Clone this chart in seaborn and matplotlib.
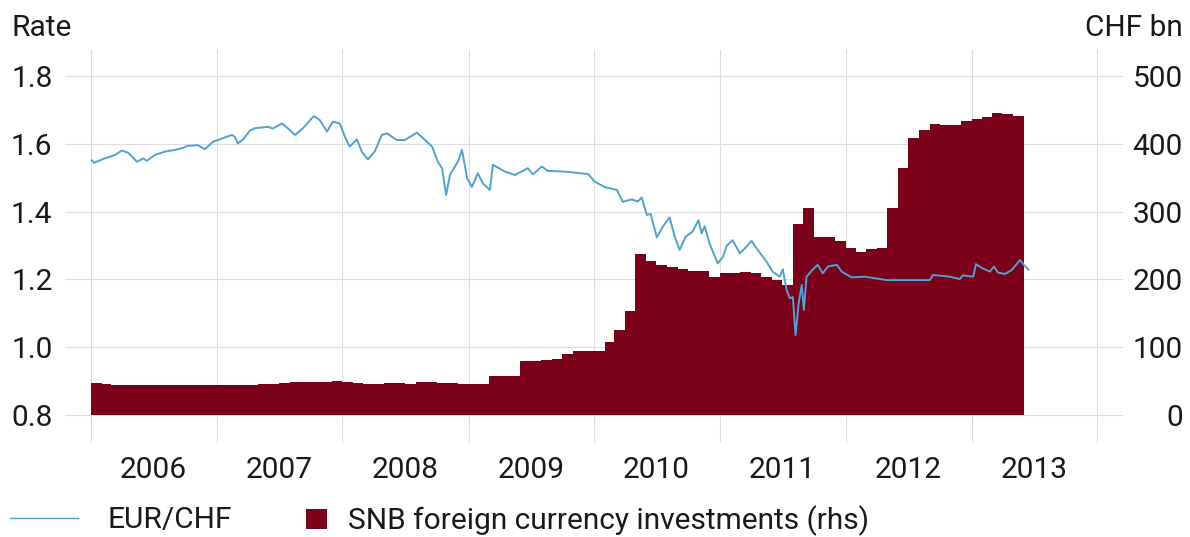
import pandas as pd
import matplotlib
matplotlib.use("Agg")
import matplotlib.pyplot as plt
import matplotlib.dates as mdates
from matplotlib.lines import Line2D
from matplotlib.patches import Patch
from matplotlib.ticker import FormatStrFormatter, NullFormatter
import seaborn as sns

# EUR/CHF rate
fx_dates = [
    "2006-01-02", "2006-01-09", "2006-02-10", "2006-03-11", "2006-03-31", "2006-04-18",
    "2006-04-30", "2006-05-14", "2006-06-01", "2006-06-12", "2006-07-05", "2006-08-03",
    "2006-09-01", "2006-09-22", "2006-10-09", "2006-11-07", "2006-11-27", "2006-12-21",
    "2007-01-25", "2007-02-14", "2007-02-22", "2007-03-03", "2007-03-18", "2007-04-07",
    "2007-04-22", "2007-05-29", "2007-06-13", "2007-07-09", "2007-07-26", "2007-08-16",
    "2007-09-08", "2007-10-10", "2007-10-27", "2007-11-17", "2007-12-04", "2007-12-24",
    "2008-01-08", "2008-01-22", "2008-02-12", "2008-02-26", "2008-03-15", "2008-04-04",
    "2008-04-24", "2008-05-09", "2008-06-07", "2008-06-30", "2008-08-04", "2008-08-28",
    "2008-09-17", "2008-10-04", "2008-10-16", "2008-10-28", "2008-11-08", "2008-12-01",
    "2008-12-13", "2008-12-28", "2009-01-11", "2009-01-28", "2009-02-12", "2009-03-04",
    "2009-03-13", "2009-04-17", "2009-05-16", "2009-06-22", "2009-07-07", "2009-08-02",
    "2009-08-19", "2009-10-08", "2009-12-14", "2010-01-03", "2010-02-01", "2010-03-08",
    "2010-03-25", "2010-04-20", "2010-05-08", "2010-05-19", "2010-06-03", "2010-06-14",
    "2010-07-02", "2010-07-19", "2010-08-08", "2010-08-23", "2010-09-06", "2010-09-24",
    "2010-10-14", "2010-10-31", "2010-11-09", "2010-11-18", "2010-12-02", "2010-12-26",
    "2011-01-10", "2011-01-21", "2011-02-07", "2011-02-28", "2011-03-20", "2011-04-03",
    "2011-04-21", "2011-05-17", "2011-06-03", "2011-06-24", "2011-07-03", "2011-07-14",
    "2011-07-23", "2011-08-01", "2011-08-09", "2011-08-18", "2011-08-27", "2011-09-02",
    "2011-09-10", "2011-09-25", "2011-10-12", "2011-10-27", "2011-11-11", "2011-12-07",
    "2011-12-21", "2012-01-19", "2012-02-26", "2012-04-30", "2012-09-02", "2012-09-11",
    "2012-10-30", "2012-11-28", "2012-12-07", "2013-01-06", "2013-01-14", "2013-02-01",
    "2013-02-24", "2013-03-07", "2013-03-19", "2013-04-08", "2013-04-28", "2013-05-22",
    "2013-06-02", "2013-06-16",
]
fx_rate = [
    1.552, 1.544, 1.557, 1.567, 1.580, 1.574,
    1.562, 1.547, 1.557, 1.550, 1.567, 1.577,
    1.582, 1.587, 1.594, 1.596, 1.584, 1.606,
    1.619, 1.626, 1.621, 1.601, 1.613, 1.639,
    1.646, 1.650, 1.645, 1.660, 1.646, 1.626,
    1.646, 1.682, 1.670, 1.636, 1.665, 1.660,
    1.621, 1.592, 1.613, 1.577, 1.554, 1.578,
    1.626, 1.631, 1.611, 1.611, 1.633, 1.611,
    1.592, 1.547, 1.528, 1.449, 1.508, 1.547,
    1.582, 1.498, 1.473, 1.513, 1.483, 1.464,
    1.538, 1.518, 1.508, 1.528, 1.510, 1.533,
    1.520, 1.518, 1.511, 1.488, 1.472, 1.464,
    1.429, 1.436, 1.430, 1.442, 1.390, 1.393,
    1.324, 1.355, 1.383, 1.326, 1.287, 1.326,
    1.341, 1.375, 1.336, 1.357, 1.306, 1.247,
    1.267, 1.299, 1.316, 1.277, 1.297, 1.314,
    1.287, 1.252, 1.223, 1.208, 1.230, 1.169,
    1.144, 1.148, 1.036, 1.130, 1.184, 1.110,
    1.208, 1.226, 1.243, 1.218, 1.238, 1.243,
    1.223, 1.206, 1.208, 1.198, 1.198, 1.213,
    1.208, 1.201, 1.212, 1.208, 1.245, 1.233,
    1.223, 1.238, 1.220, 1.216, 1.228, 1.257,
    1.243, 1.228,
]

# SNB foreign currency investments, CHF bn, monthly from Jan 2006
snb_start = "2006-01-01"
snb_bn = [
    47, 45, 44, 44, 44, 44, 44, 44, 44, 44, 44, 44,
    44, 44, 44, 44, 45, 46, 47, 48, 48, 48, 49, 50,
    49, 47, 46, 46, 47, 47, 46, 48, 49, 47, 47, 46,
    46, 46, 57, 57, 57, 80, 80, 81, 83, 90, 95, 95,
    95, 108, 125, 153, 238, 227, 221, 219, 216, 213, 213, 204,
    210, 210, 211, 210, 204, 199, 192, 281, 305, 263, 263, 257,
    247, 241, 245, 247, 306, 365, 409, 421, 429, 427, 428, 433,
    436, 439, 445, 444, 441,
]

RED = "#7b0019"
BLUE = "#4fa3d1"
GRID = "#dcdcdc"
TEXT = "#1a1a1a"
FS = 21.5

sns.set_style("white")
plt.rcParams['font.family'] = ['Roboto', 'DejaVu Sans']
plt.rcParams['text.color'] = TEXT

W, H = 1190, 537
fig = plt.figure(figsize=(W / 100, H / 100), dpi=100)
ax = fig.add_axes([65 / W, 1 - 443 / H, (1123 - 65) / W, (443 - 50) / H])
ax2 = ax.twinx()

# bars (rhs) as a monthly step area
months = pd.date_range(snb_start, periods=len(snb_bn) + 1, freq="MS")
ax2.fill_between(months, snb_bn + [snb_bn[-1]], step="post", color=RED,
                 linewidth=0, zorder=2)

# EUR/CHF line (lhs)
sns.lineplot(x=pd.to_datetime(fx_dates), y=fx_rate, ax=ax, color=BLUE,
             linewidth=1.4, estimator=None)

# line axes on top of the bars
ax.set_zorder(ax2.get_zorder() + 1)
ax.patch.set_visible(False)

ax.set_xlim(pd.Timestamp("2005-10-17"), pd.Timestamp("2014-03-17"))
ax.set_ylim(0.7174, 1.8767)
ax2.set_ylim(-41.3, 538.3)
ax.set_yticks([0.8, 1.0, 1.2, 1.4, 1.6, 1.8])
ax.yaxis.set_major_formatter(FormatStrFormatter('%.1f'))
ax2.set_yticks([0, 100, 200, 300, 400, 500])

ax.xaxis.set_major_locator(mdates.YearLocator())
ax.xaxis.set_major_formatter(NullFormatter())
ax.xaxis.set_minor_locator(mdates.MonthLocator(bymonth=7))
ax.xaxis.set_minor_formatter(mdates.DateFormatter('%Y'))

# grid lives on the bar axes so the bars hide it
ax2.xaxis.set_visible(True)
ax2.grid(True, which='major', axis='both', color=GRID, linewidth=0.8)
ax2.set_axisbelow(True)
ax.grid(False)

ax.tick_params(axis='x', which='both', length=0, pad=9, labelsize=FS, labelcolor=TEXT)
ax.tick_params(axis='y', length=0, pad=9, labelsize=FS, labelcolor=TEXT)
ax2.tick_params(axis='x', which='both', length=0, labelbottom=False)
ax2.tick_params(axis='y', length=0, pad=43, labelsize=FS, labelcolor=TEXT)
for lbl in ax2.get_yticklabels():
    lbl.set_ha('right')

ax.set_xlabel('')
ax.set_ylabel('')
ax2.set_ylabel('')
for a in (ax, ax2):
    for s in a.spines.values():
        s.set_visible(False)

fig.text(12 / W, 1 - 28 / H, "Rate", ha='left', va='center', fontsize=FS)
fig.text(1183 / W, 1 - 28 / H, "CHF bn", ha='right', va='center', fontsize=FS)

# legend
fig.legend(handles=[Line2D([], [], color=BLUE, linewidth=1.0)], labels=["EUR/CHF"],
           loc='center left', bbox_to_anchor=(10 / W, 1 - 520 / H), frameon=False,
           borderpad=0, borderaxespad=0, handlelength=2.28, handletextpad=0.97,
           fontsize=FS)
fig.legend(handles=[Patch(facecolor=RED, edgecolor='none')],
           labels=["SNB foreign currency investments (rhs)"],
           loc='center left', bbox_to_anchor=(306 / W, 1 - 521 / H), frameon=False,
           borderpad=0, borderaxespad=0, handlelength=0.70, handleheight=0.64,
           handletextpad=0.70, fontsize=FS)

fig.savefig("out.png", dpi=100)
